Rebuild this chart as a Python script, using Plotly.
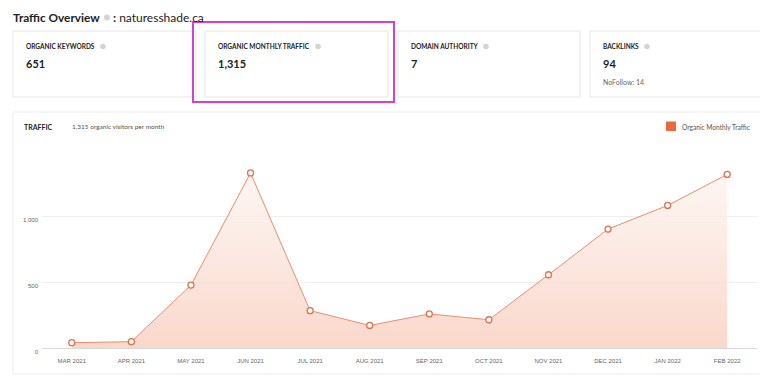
import plotly.graph_objects as go

months = ["MAR 2021", "APR 2021", "MAY 2021", "JUN 2021", "JUL 2021", "AUG 2021",
          "SEP 2021", "OCT 2021", "NOV 2021", "DEC 2021", "JAN 2022", "FEB 2022"]
traffic = [40, 48, 477, 1326, 283, 171, 258, 214, 555, 901, 1080, 1315]
ytick_vals = [0, 500, 1000, 1500]
ytick_text = ["0", "500", "1,000", ""]

cards = [
    ("ORGANIC KEYWORDS", "651", ""),
    ("ORGANIC MONTHLY TRAFFIC", "1,315", ""),
    ("DOMAIN AUTHORITY", "7", ""),
    ("BACKLINKS", "94", "NoFollow: 14"),
]

# The page body has an 8px margin, so the figure sits at (8, 8) in the window.
OFF = 8
W_FIG, H_FIG = 768 - OFF, 378 - OFF
PLOT_L, PLOT_R, PLOT_T, PLOT_B = 42, 757, 150, 348   # window pixel coords of plot area
L = PLOT_L - OFF
R = 768 - PLOT_R
T = PLOT_T - OFF
B = 378 - PLOT_B
PW = PLOT_R - PLOT_L
PH = PLOT_B - PLOT_T


def px(x):
    return (x - PLOT_L) / PW


def py(y):
    return (PLOT_B - y) / PH


HEAD = "Lato, 'Open Sans', sans-serif"
AXF = "'Liberation Sans', Arial, sans-serif"

fig = go.Figure()
fig.add_trace(go.Scatter(
    x=months, y=traffic, mode="lines+markers",
    line=dict(color="#ec8d6d", width=1),
    marker=dict(symbol="circle", size=6, color="white",
                line=dict(color="#e2714b", width=1.3)),
    fill="tozeroy",
    fillgradient=dict(type="vertical", start=0, stop=1330,
                      colorscale=[[0, "rgba(249,208,194,0.85)"], [1, "rgba(253,242,237,0.7)"]]),
    showlegend=False, hoverinfo="skip",
))

shapes = []
ann = []


def text(x, y, s, size, color="#222", bold=False):
    ann.append(dict(x=px(x - 2), y=py(y), xref="paper", yref="paper",
                    text=("<b>%s</b>" % s) if bold else s,
                    showarrow=False, xanchor="left", yanchor="middle",
                    font=dict(family=HEAD, size=size, color=color)))


def dot(cx, cy, r=3):
    shapes.append(dict(type="circle", xref="paper", yref="paper", x0=px(cx - r), x1=px(cx + r),
                       y0=py(cy + r), y1=py(cy - r), fillcolor="#d4d4d4", line=dict(width=0)))


# title
text(13, 17, "Traffic Overview", 11.8, bold=True)
dot(107, 17.5)
text(113, 17, "<b>:</b> naturesshade.ca", 12)

# cards
card_x = [(13, 196), (205, 388), (398, 580), (590, 772)]
icon_x = [103, 318, 486, 647]
for (x0, x1), ix, (lab, val, sub) in zip(card_x, icon_x, cards):
    shapes.append(dict(type="rect", xref="paper", yref="paper", x0=px(x0), x1=px(x1),
                       y0=py(97), y1=py(31), line=dict(color="#e6e6e6", width=1),
                       fillcolor="white", layer="below"))
    text(x0 + 13, 46.5, lab, 6.5, bold=True)
    text(x0 + 13, 63.5, val, 11, bold=True)
    if sub:
        text(x0 + 13, 82, sub, 7, color="#666")
    dot(ix, 46.5, 2.8)

# highlight box
shapes.append(dict(type="rect", xref="paper", yref="paper", x0=px(193), x1=px(394),
                   y0=py(102), y1=py(22), line=dict(color="#d63fd3", width=2)))

# chart card
shapes.append(dict(type="rect", xref="paper", yref="paper", x0=px(13), x1=px(772),
                   y0=py(374), y1=py(112), line=dict(color="#ececec", width=1),
                   fillcolor="white", layer="below"))
text(24, 126.5, "TRAFFIC", 7, bold=True)
text(72, 126.5, "1,315 organic visitors per month", 6.5, color="#555")
# legend
shapes.append(dict(type="rect", xref="paper", yref="paper", x0=px(666), x1=px(676),
                   y0=py(131), y1=py(121.5), fillcolor="#eb6a3c", line=dict(width=0)))
text(682, 126.5, "Organic Monthly Traffic", 6.6, color="#555")

fig.update_layout(
    width=W_FIG, height=H_FIG,
    margin=dict(l=L, r=R, t=T, b=B, pad=0),
    paper_bgcolor="white", plot_bgcolor="white",
    shapes=shapes, annotations=ann,
    xaxis=dict(type="category", range=[-0.5, 11.5], showgrid=False, zeroline=False,
               showline=False, ticks="", tickfont=dict(family=AXF, size=6, color="#666"),
               ticklabelstandoff=8, fixedrange=True),
    yaxis=dict(range=[0, 1500], tickvals=ytick_vals, ticktext=ytick_text,
               showgrid=True, gridcolor="#efefef", gridwidth=1,
               zeroline=True, zerolinecolor="#d9d9d9", zerolinewidth=1,
               showline=False, ticks="", ticklabelshift=4, ticklabelstandoff=3,
               tickfont=dict(family=AXF, size=6, color="#666"), fixedrange=True),
)

fig.write_html("out.html")
